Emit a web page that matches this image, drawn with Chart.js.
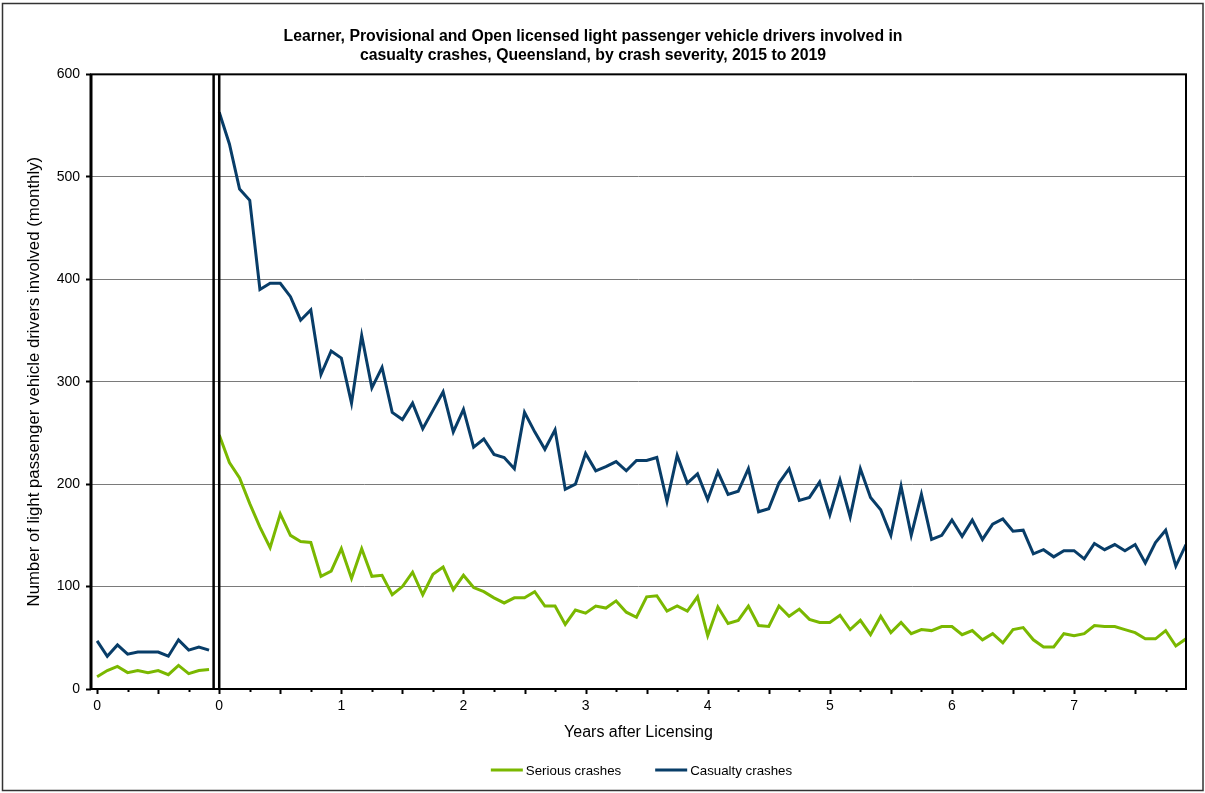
<!DOCTYPE html>
<html lang="en">
<head>
    <meta charset="UTF-8">
    <title>Drivers involved in casualty crashes, Queensland</title>
    <script src="https://cdn.jsdelivr.net/npm/chart.js"></script>
    <style>
        body {
            margin: 0;
            background: #fff;
        }
    </style>
</head>
<body>

    <canvas id="crashChart" width="1205" height="793"></canvas>

    <script>
        // Monthly counts: 12 learner months, then 96 months after licensing
        const learnerCasualty = [47, 32, 43, 34, 36, 36, 36, 32, 48, 38, 41, 38];
        const learnerSerious = [12, 18, 22, 16, 18, 16, 18, 14, 23, 15, 18, 19];

        const provCasualty = [
            563, 532, 488, 477, 390, 396, 396, 383, 360, 370,
            307, 330, 323, 279, 345, 294, 314, 270, 263, 279,
            254, 272, 290, 251, 273, 236, 244, 229, 226, 215,
            270, 251, 234, 253, 195, 200, 230, 213, 217, 222,
            213, 223, 223, 226, 183, 228, 201, 210, 185, 212,
            190, 193, 215, 173, 176, 201, 215, 184, 187, 202,
            170, 204, 168, 215, 187, 175, 150, 198, 150, 190,
            146, 150, 165, 149, 165, 146, 161, 166, 154, 155,
            132, 136, 129, 135, 135, 127, 142, 136, 141, 135,
            141, 123, 143, 155, 120, 141
        ];
        const provSerious = [
            248, 221, 206, 181, 158, 138, 171, 150, 144, 143,
            110, 115, 137, 108, 137, 110, 111, 92, 100, 114,
            92, 112, 119, 97, 111, 99, 95, 89, 84, 89,
            89, 95, 81, 81, 63, 77, 74, 81, 79, 86,
            75, 70, 90, 91, 76, 81, 76, 90, 52, 80,
            64, 67, 81, 62, 61, 81, 71, 78, 68, 65,
            65, 72, 58, 67, 53, 71, 55, 65, 54, 58,
            57, 61, 61, 53, 57, 48, 54, 45, 58, 60,
            48, 41, 41, 54, 52, 54, 62, 61, 61, 58,
            55, 49, 49, 57, 42, 49
        ];

        const seriesNames = ["Serious crashes", "Casualty crashes"];
        const seriesColors = ["#7ab800", "#083d68"];

        // x positions (month index) that carry a label
        const xTickPos = [0, 12, 24, 36, 48, 60, 72, 84, 96];
        const xTickLabels = ["0", "0", "1", "2", "3", "4", "5", "6", "7"];

        const chartTitle = [
            "Learner, Provisional and Open licensed light passenger vehicle drivers involved in",
            "casualty crashes, Queensland, by crash severity, 2015 to 2019"
        ];

        const learnerMonths = learnerSerious.length;
        const lastIndex = learnerMonths + provSerious.length - 1;

        // learner and licensed periods are joined into one series with a break
        function toPoints(learner, prov) {
            const pts = learner.map((v, i) => ({ x: i, y: v }));
            pts.push({ x: learnerMonths - 0.5, y: null });
            prov.forEach((v, i) => pts.push({ x: learnerMonths + i, y: v }));
            return pts;
        }

        Chart.defaults.font.family = "'Liberation Sans', Arial, sans-serif";
        Chart.defaults.color = "#000";

        const framePlugin = {
            id: "frame",
            afterDraw(chart) {
                const { ctx, chartArea: a, scales: { x } } = chart;
                ctx.save();
                ctx.strokeStyle = "#000";

                // x tick marks, every quarter, longer every half year
                ctx.lineWidth = 2;
                for (let v = 0; v <= lastIndex; v += 3) {
                    const px = Math.round(x.getPixelForValue(v)) + 0.5;
                    ctx.beginPath();
                    ctx.moveTo(px, a.bottom);
                    ctx.lineTo(px, a.bottom + (v % 6 === 0 ? 5 : 3));
                    ctx.stroke();
                }

                // double line separating learner period
                ctx.lineWidth = 2.5;
                [learnerMonths - 0.55, learnerMonths].forEach(v => {
                    const px = x.getPixelForValue(v);
                    ctx.beginPath();
                    ctx.moveTo(px, a.top);
                    ctx.lineTo(px, a.bottom);
                    ctx.stroke();
                });

                // plot box
                ctx.lineWidth = 2;
                ctx.strokeRect(a.left, a.top, a.right - a.left, a.bottom - a.top);
                ctx.lineWidth = 3;
                ctx.beginPath();
                ctx.moveTo(a.left, a.top);
                ctx.lineTo(a.left, a.bottom + 1);
                ctx.stroke();

                // legend
                ctx.font = "13.3px 'Liberation Sans', Arial, sans-serif";
                ctx.textBaseline = "middle";
                const lineLen = 32, gap = 3, itemGap = 34;
                const widths = seriesNames.map(n => lineLen + gap + ctx.measureText(n).width);
                let lx = (a.left + a.right) / 2 - (widths[0] + itemGap + widths[1]) / 2 + 3;
                const ly = 770;
                seriesNames.forEach((n, i) => {
                    ctx.strokeStyle = seriesColors[i];
                    ctx.lineWidth = 3;
                    ctx.beginPath();
                    ctx.moveTo(lx, ly);
                    ctx.lineTo(lx + lineLen, ly);
                    ctx.stroke();
                    ctx.fillStyle = "#000";
                    ctx.fillText(n, lx + lineLen + gap, ly + 1);
                    lx += widths[i] + itemGap;
                });

                // outer border
                ctx.strokeStyle = "#333";
                ctx.lineWidth = 1.5;
                ctx.strokeRect(2.5, 3.5, chart.width - 4.5, chart.height - 6);
                ctx.restore();
            }
        };

        new Chart(document.getElementById("crashChart"), {
            type: "line",
            data: {
                datasets: [
                    {
                        label: seriesNames[0],
                        data: toPoints(learnerSerious, provSerious),
                        borderColor: seriesColors[0],
                        backgroundColor: seriesColors[0]
                    },
                    {
                        label: seriesNames[1],
                        data: toPoints(learnerCasualty, provCasualty),
                        borderColor: seriesColors[1],
                        backgroundColor: seriesColors[1]
                    }
                ]
            },
            options: {
                responsive: false,
                animation: false,
                spanGaps: false,
                layout: { padding: { top: 0, right: 19, bottom: 45, left: 0 } },
                elements: {
                    line: { borderWidth: 3, tension: 0 },
                    point: { radius: 0 }
                },
                plugins: {
                    legend: { display: false },
                    tooltip: { enabled: false },
                    title: {
                        display: true,
                        text: chartTitle,
                        font: { size: 15.8, weight: "bold", lineHeight: 1.15 },
                        padding: { top: 28, bottom: 10 }
                    }
                },
                scales: {
                    x: {
                        type: "linear",
                        min: -0.6,
                        max: lastIndex,
                        afterBuildTicks: s => {
                            const t = [];
                            for (let v = 0; v <= lastIndex; v += 3) t.push({ value: v });
                            s.ticks = t;
                        },
                        afterFit: s => { s.height = 59; },
                        grid: { display: false, drawTicks: false },
                        border: { display: false },
                        ticks: {
                            autoSkip: false,
                            maxRotation: 0,
                            padding: 9,
                            font: { size: 14 },
                            callback: v => {
                                const i = xTickPos.indexOf(v);
                                return i >= 0 ? xTickLabels[i] : "";
                            }
                        },
                        title: {
                            display: true,
                            text: "Years after Licensing",
                            font: { size: 16 },
                            padding: { top: 4, bottom: 6 }
                        }
                    },
                    y: {
                        min: 0,
                        max: 600,
                        afterFit: s => { s.width = 91; },
                        ticks: { stepSize: 100, padding: 6, font: { size: 14 } },
                        grid: { color: "#7a7a7a", lineWidth: 1, tickLength: 5, tickColor: "#000", tickWidth: 2 },
                        border: { display: false },
                        title: {
                            display: true,
                            text: "Number of light passenger vehicle drivers involved (monthly)",
                            font: { size: 16.8 },
                            padding: { top: 24, bottom: 0 }
                        }
                    }
                }
            },
            plugins: [framePlugin]
        });
    </script>

</body>
</html>
